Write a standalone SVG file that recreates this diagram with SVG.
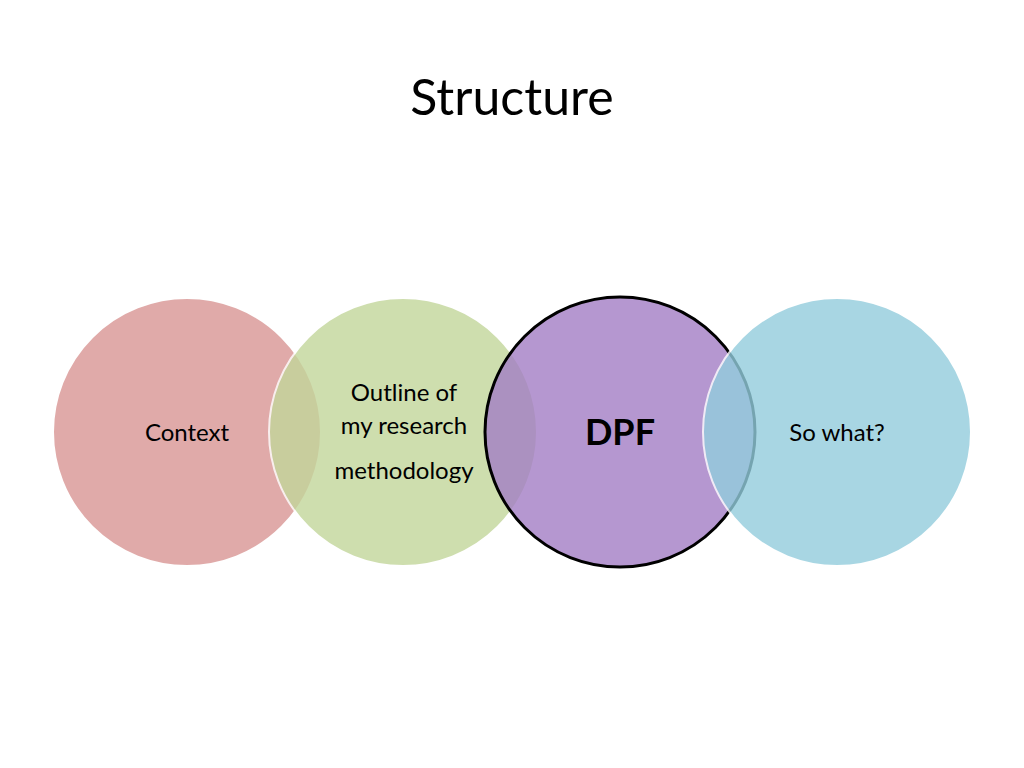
<svg xmlns="http://www.w3.org/2000/svg" width="1024" height="768" viewBox="0 0 1024 768">
<style>
text{font-family:Lato,"Open Sans","Liberation Sans",sans-serif;fill:#000;text-anchor:middle}
.c{stroke:#fff;stroke-width:2;opacity:0.8}
.l{font-size:24px}
</style>
<rect width="1024" height="768" fill="#fff"/>
<text x="512" y="115" style="font-size:50px">Structure</text>
<g id="context"><circle class="c" cx="187" cy="432" r="134" fill="#d99694"/></g>
<g id="outline"><circle class="c" cx="403" cy="432" r="134" fill="#c3d69b"/></g>
<g id="dpf"><circle cx="620" cy="432" r="135" fill="#a27dc4" fill-opacity="0.8" stroke="#000" stroke-width="3"/></g>
<g id="sowhat"><circle class="c" cx="837" cy="432" r="134" fill="#93cddd"/></g>
<g id="labels">
<text class="l" x="187" y="441">Context</text>
<text class="l" x="404" y="401">Outline of</text>
<text class="l" x="404" y="434">my research</text>
<text class="l" x="404" y="479">methodology</text>
<text x="620" y="445" style="font-size:36px;font-weight:bold">DPF</text>
<text class="l" x="837" y="441">So what?</text>
</g>
<g id="connectors"/>
</svg>
